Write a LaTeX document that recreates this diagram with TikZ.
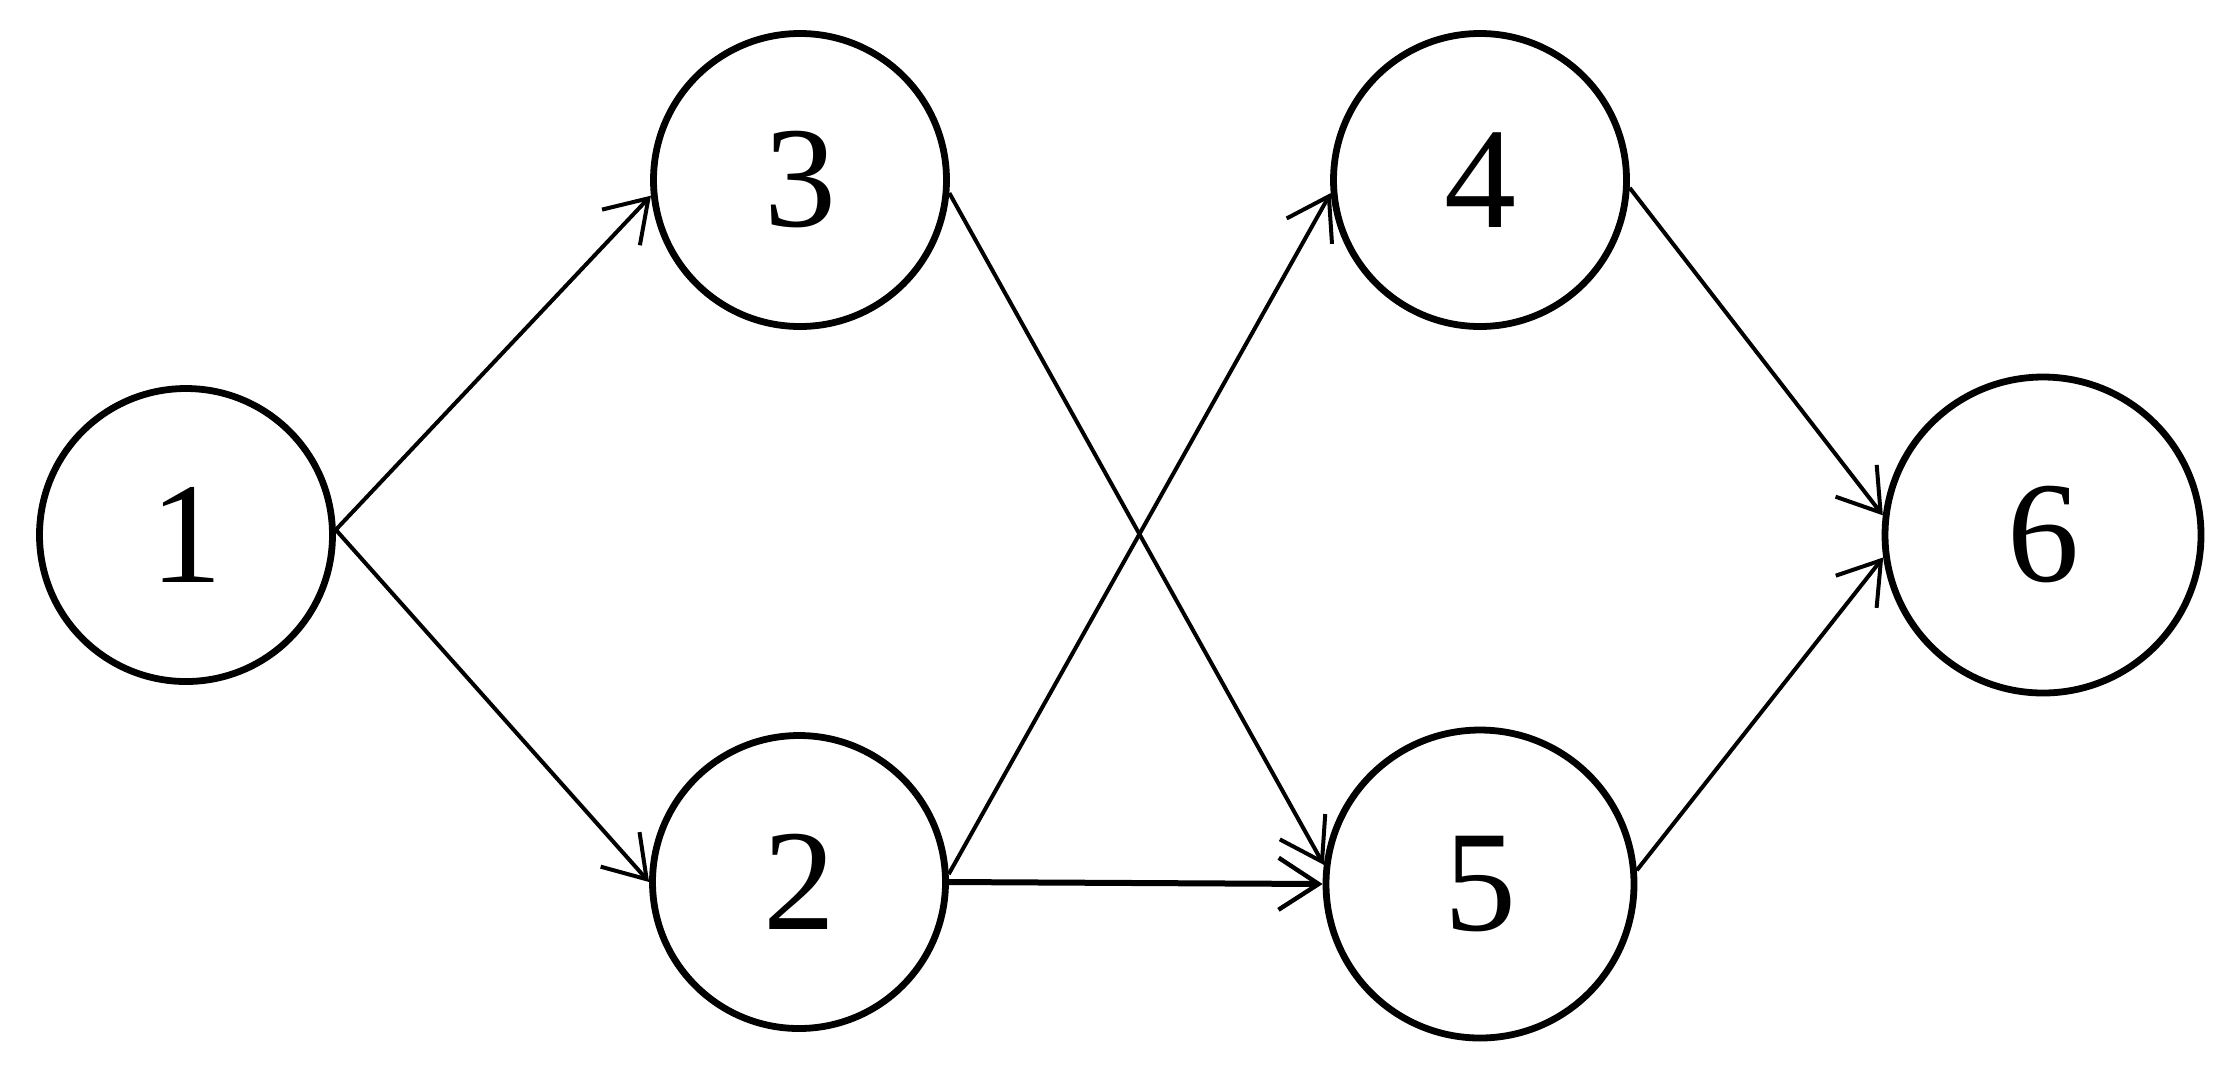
\documentclass[tikz,border=0pt]{standalone}
\usepackage{fontspec}
\setmainfont{Liberation Serif}
\usetikzlibrary{arrows.meta}
\tikzset{
  vertex/.style={circle, draw=black, line width=3.4pt, minimum size=146.5pt, inner sep=0pt,
    font=\fontsize{72}{80}\selectfont},
  bigvertex/.style={vertex, minimum size=154pt},
  hugevertex/.style={vertex, minimum size=158pt},
  link/.style={line width=2pt, -{Straight Barb[length=20pt, width=26pt, line width=2pt]}},
  boldlink/.style={line width=3pt, -{Straight Barb[length=20pt, width=26pt, line width=2.2pt]}}
}
\begin{document}
\begin{tikzpicture}[x=0.5pt, y=-0.5pt]
\useasboundingbox (0,0) rectangle (2230,1073);
\fill[white] (0,0) rectangle (2230,1073);
\node[vertex] (n1) at (186,535) {1};
\node[vertex] (n3) at (800,180) {3};
\node[vertex] (n2) at (799,882) {2};
\node[vertex] (n4) at (1480,180) {4};
\node[bigvertex] (n5) at (1480,884) {5};
\node[hugevertex] (n6) at (2043,535) {6};
\draw[link] (n1.2) -- (n3.186);
\draw[link] (n1.2) -- (n2.west);
\draw[link] (n3.-5) -- (n5.173);
\draw[link] (n2.3) -- (n4.185);
\draw[boldlink] (n2.east) -- (n5.west);
\draw[link] (n4.-3) -- (n6.173);
\draw[link] (n5.5) -- (n6.188);
\end{tikzpicture}
\end{document}
